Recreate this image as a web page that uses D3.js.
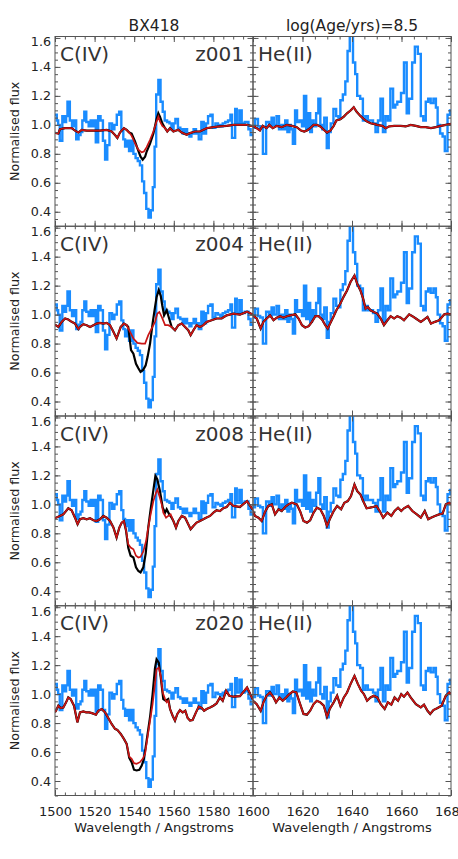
<!DOCTYPE html>
<html>
<head>
<meta charset="utf-8">
<script src="https://cdn.jsdelivr.net/npm/d3@7"></script>
<style>
  body { margin: 0; background: #fff; }
  svg { display: block; }
</style>
</head>
<body>
<script>
// ---- data ----
var metallicities = ['z001', 'z004', 'z008', 'z020'];
var leftTicks = [1500, 1520, 1540, 1560, 1580, 1600];
var leftTickLabels = ['1500', '1520', '1540', '1560', '1580', ''];
var rightTicks = [1600, 1620, 1640, 1660, 1680];
var rightTickLabels = ['1600', '1620', '1640', '1660', '1680'];
var yTicks = [0.4, 0.6, 0.8, 1.0, 1.2, 1.4, 1.6];

// observed spectrum of BX418 (bin start wavelength, flux), C IV window
var obsCIV = [[1500.0,1.07],[1500.9,1.03],[1501.6,1.00],[1502.4,0.89],[1503.7,1.06],[1504.6,1.02],[1505.6,1.06],[1506.3,1.16],
  [1507.5,1.03],[1508.6,0.99],[1509.6,1.03],[1510.7,0.90],[1511.9,0.93],[1512.9,0.95],[1513.8,1.03],[1514.8,1.09],[1515.8,1.02],
  [1517.0,0.99],[1518.0,1.03],[1519.1,0.99],[1520.0,1.03],[1520.6,0.88],[1521.8,1.06],[1523.0,1.03],[1524.2,0.89],[1525.3,0.76],
  [1526.4,0.86],[1527.5,1.01],[1528.8,0.97],[1530.0,1.00],[1531.2,1.07],[1532.4,1.09],[1533.5,0.96],[1534.5,0.90],[1535.4,0.85],
  [1536.4,0.89],[1537.4,0.82],[1538.6,0.89],[1539.6,0.80],[1540.7,0.77],[1541.8,0.75],[1542.9,0.72],[1544.0,0.61],[1545.0,0.53],
  [1546.1,0.42],[1547.2,0.36],[1548.4,0.41],[1549.4,0.57],[1550.3,0.85],[1551.1,1.21],[1552.2,1.31],[1553.3,1.16],[1554.4,1.09],
  [1555.4,1.03],[1556.6,1.02],[1557.8,1.01],[1558.8,0.97],[1559.9,1.01],[1560.8,1.04],[1562.1,0.98],[1563.3,0.97],[1564.5,0.94],
  [1565.5,0.97],[1566.7,0.94],[1567.9,0.92],[1568.9,0.94],[1570.0,0.97],[1571.2,0.94],[1572.6,0.90],[1573.9,1.02],[1575.1,0.94],
  [1576.3,1.01],[1577.3,1.06],[1578.5,1.07],[1579.6,0.98],[1581.0,1.01],[1582.3,1.00],[1583.5,0.99],[1584.7,1.01],[1586.0,1.02],
  [1587.4,1.03],[1588.6,1.07],[1589.4,0.91],[1591.0,1.11],[1591.8,1.01],[1593.1,1.10],[1594.3,1.01],[1595.8,1.02],[1597.7,0.97],
  [1598.8,0.93],[1600.0,0.93]];

// observed spectrum, He II window
var obsHeII = [[1600.0,0.98],[1600.8,1.04],[1602.0,0.99],[1602.9,0.98],[1604.0,0.80],[1605.3,1.02],[1606.5,0.99],[1607.5,1.05],
  [1608.4,1.00],[1609.5,1.06],[1610.5,0.97],[1611.5,1.00],[1612.3,0.97],[1613.0,1.03],[1613.9,0.95],[1614.7,1.00],[1615.3,0.97],
  [1616.1,0.87],[1617.0,1.10],[1617.8,1.02],[1618.8,1.03],[1619.8,0.99],[1620.6,1.20],[1621.5,0.97],[1622.4,1.08],[1623.1,0.95],
  [1623.8,1.03],[1624.5,0.99],[1625.5,1.08],[1626.4,1.18],[1627.2,1.00],[1628.0,0.97],[1628.8,1.05],[1629.8,0.84],[1630.6,0.95],
  [1631.4,1.01],[1632.5,1.11],[1633.6,1.06],[1634.5,1.05],[1635.3,1.17],[1636.3,1.21],[1637.3,1.30],[1638.2,1.51],[1639.1,1.64],
  [1640.4,1.43],[1641.3,1.35],[1642.1,1.20],[1643.3,1.18],[1644.4,1.03],[1645.4,1.06],[1646.4,1.03],[1647.4,1.03],[1648.5,1.01],
  [1649.5,0.95],[1650.5,1.03],[1651.5,1.18],[1652.5,0.95],[1653.5,1.06],[1654.5,1.03],[1655.5,1.25],[1656.6,1.12],[1657.5,1.14],
  [1658.3,1.16],[1659.8,1.22],[1661.0,1.43],[1662.1,1.08],[1663.0,1.18],[1664.3,1.43],[1665.4,1.54],[1666.6,1.49],[1667.8,1.06],
  [1668.8,1.03],[1669.8,1.16],[1670.8,1.18],[1671.8,1.15],[1672.9,1.18],[1673.9,1.12],[1674.6,1.00],[1675.6,0.94],[1676.6,0.92],
  [1677.5,0.82],[1678.6,1.07],[1679.6,1.10],[1680.0,1.10]];

// red model, C IV window, one per metallicity
var redCIV001 = [[1500.0,0.945],[1501.7,0.94],[1502.5,0.97],[1505.1,0.977],[1508.4,0.977],[1510.1,0.96],[1511.8,0.947],[1513.5,0.965],
  [1516.0,0.96],[1519.4,0.96],[1522.7,0.96],[1526.1,0.965],[1528.6,0.954],[1530.3,0.93],[1531.5,0.91],[1532.8,0.947],[1534.8,0.977],
  [1536.2,0.965],[1537.5,0.947],[1538.7,0.924],[1540.4,0.874],[1542.1,0.828],[1543.8,0.81],[1544.9,0.816],[1546.3,0.846],
  [1548.0,0.897],[1549.7,0.954],[1551.3,1.023],[1552.2,1.057],[1553.0,1.023],[1554.2,0.993],[1555.6,0.977],[1556.7,0.954],
  [1558.1,0.977],[1559.8,0.954],[1562.3,0.966],[1564.0,0.947],[1566.5,0.931],[1568.2,0.943],[1570.7,0.954],[1573.2,0.954],
  [1576.6,0.977],[1580.0,0.984],[1583.3,0.989],[1586.7,0.993],[1590.1,1.0],[1593.4,1.0],[1597.0,1.0],[1600.0,0.99]];
var redCIV004 = [[1500.0,0.93],[1501.7,0.915],[1503.4,0.95],[1505.1,0.973],[1506.7,0.966],[1508.4,0.95],[1510.1,0.938],[1511.8,0.90],
  [1512.6,0.915],[1514.3,0.934],[1516.0,0.927],[1517.7,0.915],[1519.4,0.927],[1521.0,0.938],[1522.7,0.943],[1524.4,0.938],
  [1526.1,0.943],[1527.8,0.927],[1529.5,0.881],[1531.1,0.835],[1532.0,0.869],[1533.2,0.915],[1534.8,0.938],[1536.2,0.927],
  [1537.9,0.881],[1539.6,0.835],[1541.6,0.805],[1543.8,0.80],[1545.5,0.80],[1547.1,0.858],[1548.8,0.904],[1550.5,0.95],
  [1551.7,1.007],[1552.7,1.018],[1553.9,0.984],[1555.6,0.927],[1557.2,0.927],[1558.9,0.915],[1560.6,0.892],[1562.3,0.927],
  [1564.0,0.938],[1565.7,0.915],[1567.3,0.892],[1568.5,0.858],[1569.9,0.892],[1571.5,0.927],[1573.2,0.915],[1574.9,0.927],
  [1576.6,0.95],[1579.1,0.961],[1581.6,0.973],[1584.2,0.973],[1586.7,0.995],[1590.1,1.007],[1593.4,1.0],[1597.0,1.02],[1600.0,1.0]];
var redCIV008 = [[1500.0,0.905],[1502.5,0.92],[1504.2,0.931],[1506.7,0.973],[1508.4,0.959],[1510.1,0.908],[1511.4,0.863],[1512.6,0.897],
  [1514.3,0.904],[1516.0,0.897],[1517.7,0.904],[1519.4,0.89],[1521.0,0.885],[1522.7,0.897],[1524.4,0.92],[1526.1,0.908],
  [1527.8,0.885],[1529.5,0.84],[1531.1,0.771],[1532.5,0.84],[1533.7,0.874],[1534.8,0.885],[1535.9,0.817],[1537.0,0.725],
  [1538.2,0.702],[1539.6,0.69],[1540.9,0.645],[1542.1,0.633],[1543.2,0.638],[1544.6,0.675],[1546.0,0.748],[1547.1,0.84],
  [1548.3,0.931],[1549.7,1.023],[1551.0,1.08],[1551.7,1.103],[1552.7,1.057],[1553.9,1.0],[1554.7,0.943],[1556.1,0.908],
  [1557.2,0.92],[1558.4,0.931],[1559.8,0.885],[1561.1,0.84],[1562.3,0.885],[1564.0,0.92],[1565.7,0.908],[1567.3,0.863],
  [1568.5,0.828],[1569.9,0.851],[1571.5,0.874],[1573.2,0.885],[1574.9,0.897],[1576.3,0.908],[1578.3,0.92],[1580.0,0.943],
  [1581.6,0.959],[1583.3,0.954],[1585.0,0.973],[1586.7,0.982],[1588.4,1.011],[1590.1,0.989],[1593.4,0.982],[1597.0,1.023],
  [1600.0,0.96]];
var redCIV020 = [[1500.0,0.875],[1500.5,0.885],[1501.7,0.92],[1502.9,0.904],[1504.2,0.908],[1505.6,0.943],[1506.7,0.977],[1507.9,0.966],
  [1509.6,0.92],[1511.3,0.805],[1512.6,0.874],[1514.3,0.881],[1515.7,0.874],[1517.3,0.874],[1519.0,0.867],[1520.7,0.858],
  [1521.9,0.885],[1523.6,0.897],[1525.3,0.874],[1526.9,0.835],[1528.6,0.794],[1530.3,0.76],[1531.5,0.753],[1533.2,0.725],
  [1534.8,0.691],[1536.2,0.656],[1537.5,0.569],[1538.7,0.553],[1539.9,0.523],[1541.2,0.519],[1542.9,0.53],[1544.3,0.553],
  [1545.5,0.588],[1546.6,0.691],[1548.0,0.817],[1549.3,0.931],[1550.5,1.069],[1551.3,1.172],[1552.4,1.183],[1553.4,1.126],
  [1554.4,1.011],[1555.6,0.966],[1556.4,0.943],[1557.2,0.954],[1558.1,0.897],[1559.4,0.851],[1560.6,0.817],[1561.8,0.863],
  [1563.1,0.89],[1564.5,0.874],[1565.8,0.885],[1567.0,0.835],[1568.2,0.817],[1569.5,0.821],[1571.2,0.874],[1572.6,0.913],
  [1574.1,0.904],[1575.3,0.885],[1576.6,0.897],[1578.3,0.908],[1580.0,0.92],[1581.6,0.936],[1583.3,0.977],[1584.7,0.954],
  [1586.4,1.023],[1588.0,0.989],[1590.1,0.982],[1593.4,0.986],[1597.0,1.046],[1600.0,0.96]];

// black model, only where it departs from the red one
var blackCIV001 = [[1537.5,0.947],[1538.7,0.94],[1540.4,0.885],[1542.1,0.82],[1543.2,0.78],[1544.3,0.76],[1545.5,0.78],
  [1546.3,0.816],[1548.0,0.87],[1549.7,0.94],[1551.3,1.04],[1552.2,1.08],[1553.0,1.057],[1554.2,1.01],[1555.6,0.977]];
var blackCIV004 = [[1536.2,0.927],[1537.0,0.915],[1538.4,0.755],[1539.6,0.73],[1540.9,0.66],[1542.1,0.63],[1543.2,0.605],
  [1544.6,0.62],[1545.8,0.65],[1546.8,0.71],[1548.0,0.80],[1549.3,0.94],[1550.5,1.05],[1551.3,1.12],[1552.4,1.17],[1553.4,1.13],
  [1554.2,1.06],[1555.1,0.995],[1556.4,1.03],[1557.6,0.975],[1558.9,0.915]];
var blackCIV008 = [[1534.8,0.885],[1535.9,0.817],[1537.0,0.70],[1538.2,0.645],[1539.6,0.633],[1540.9,0.565],[1542.1,0.54],
  [1543.2,0.53],[1544.6,0.565],[1545.8,0.66],[1547.1,0.84],[1548.3,0.966],[1549.7,1.10],[1550.7,1.195],[1551.7,1.172],
  [1553.0,1.092],[1554.4,0.977],[1555.6,0.943],[1556.4,0.966],[1557.7,0.931],[1558.9,0.908],[1559.8,0.885]];
var blackCIV020 = [[1536.2,0.656],[1537.5,0.56],[1538.7,0.53],[1539.9,0.478],[1541.2,0.473],[1542.6,0.478],[1543.8,0.507],
  [1544.9,0.553],[1546.3,0.68],[1548.0,0.84],[1549.3,1.0],[1550.5,1.18],[1551.3,1.24],[1552.4,1.218],[1553.4,1.115],
  [1554.7,0.966],[1555.9,0.954],[1557.2,0.966],[1558.1,0.897]];

// model, He II window (black and red coincide here)
var redHeII001 = [[1600.0,0.993],[1601.5,0.977],[1602.8,0.961],[1603.9,0.993],[1605.5,0.977],[1606.6,1.0],[1608.0,0.977],
  [1609.6,0.993],[1611.6,0.984],[1613.7,1.0],[1615.7,0.993],[1617.7,0.984],[1619.4,0.961],[1620.7,0.954],[1621.8,0.961],
  [1623.1,0.977],[1624.5,1.0],[1625.8,1.0],[1627.2,0.989],[1628.6,0.966],[1629.9,0.947],[1631.3,0.961],[1632.6,0.993],
  [1633.7,1.03],[1635.3,1.039],[1636.7,1.057],[1638.0,1.08],[1639.4,1.099],[1640.7,1.122],[1641.8,1.092],[1643.4,1.062],
  [1644.8,1.039],[1646.1,1.023],[1647.5,1.011],[1648.8,1.007],[1650.2,1.0],[1652.2,0.993],[1653.6,0.977],[1654.9,0.989],
  [1657.0,0.993],[1659.7,0.993],[1661.7,0.989],[1663.7,1.0],[1665.8,0.993],[1667.8,0.984],[1669.8,0.984],[1671.9,0.977],
  [1673.9,0.984],[1675.9,0.993],[1677.9,1.0],[1680.0,1.007]];
var redHeII004 = [[1600.0,0.995],[1601.5,0.973],[1603.1,0.904],[1604.2,0.95],[1605.5,0.973],[1606.9,0.995],[1608.3,0.961],
  [1609.6,0.979],[1611.0,0.989],[1612.3,0.979],[1613.7,0.989],[1615.0,0.995],[1617.1,1.002],[1618.4,0.973],[1619.8,0.927],
  [1621.1,0.911],[1622.5,0.92],[1623.8,0.95],[1625.2,0.989],[1626.5,0.989],[1627.9,0.966],[1629.2,0.927],[1630.2,0.904],
  [1631.3,0.943],[1632.6,0.989],[1633.7,1.03],[1635.3,1.076],[1636.7,1.126],[1638.0,1.167],[1639.4,1.225],[1641.0,1.27],
  [1642.1,1.213],[1643.4,1.167],[1644.5,1.11],[1645.5,1.041],[1646.4,1.053],[1647.5,1.03],[1648.8,1.018],[1650.2,1.007],
  [1651.6,0.973],[1652.9,0.927],[1654.3,0.961],[1655.6,0.989],[1657.0,0.973],[1658.3,0.989],[1659.7,0.979],[1661.0,0.961],
  [1663.1,1.002],[1664.4,0.989],[1665.8,0.973],[1667.8,0.95],[1669.1,0.966],[1670.5,0.984],[1671.9,0.938],[1673.5,0.95],
  [1675.2,0.961],[1677.3,1.002],[1678.6,1.007],[1680.0,1.002]];
var redHeII008 = [[1600.0,0.954],[1600.8,0.92],[1602.2,0.908],[1603.5,0.885],[1604.9,0.95],[1606.2,0.989],[1607.6,1.0],
  [1608.9,0.931],[1610.3,0.966],[1611.6,0.954],[1613.0,0.982],[1614.3,1.0],[1615.7,1.011],[1617.7,1.0],[1619.1,0.95],
  [1620.4,0.885],[1621.8,0.874],[1623.1,0.89],[1624.5,0.943],[1625.8,0.977],[1627.2,0.966],[1628.6,0.92],[1629.9,0.851],
  [1631.3,0.908],[1632.6,0.954],[1634.0,0.989],[1635.6,0.966],[1636.9,1.011],[1638.3,1.023],[1639.6,1.057],[1641.0,1.137],
  [1642.1,1.092],[1643.4,1.069],[1644.5,1.023],[1645.9,0.973],[1647.2,0.977],[1648.6,0.982],[1649.9,0.989],[1651.3,0.95],
  [1652.6,0.908],[1654.3,0.943],[1655.9,0.92],[1657.2,0.954],[1658.6,0.977],[1659.9,0.954],[1661.0,0.973],[1662.7,0.989],
  [1664.4,0.954],[1666.2,0.931],[1667.8,0.908],[1669.4,0.954],[1670.8,0.897],[1671.9,0.908],[1673.5,0.92],[1675.2,0.931],
  [1676.6,0.936],[1677.9,1.0],[1679.3,1.011],[1680.0,1.0]];
var redHeII020 = [[1600.0,0.954],[1601.5,0.931],[1603.1,0.885],[1604.2,0.943],[1605.5,0.989],[1606.9,1.011],[1608.3,0.977],
  [1609.3,0.943],[1610.7,0.977],[1612.0,0.954],[1613.4,0.977],[1614.7,1.0],[1616.1,1.018],[1617.5,1.011],[1618.8,0.943],
  [1620.4,0.863],[1621.8,0.858],[1623.1,0.885],[1624.5,0.931],[1625.8,0.954],[1627.2,0.943],[1628.6,0.92],[1629.9,0.844],
  [1631.0,0.897],[1632.6,0.943],[1634.0,0.989],[1635.3,0.92],[1636.7,0.977],[1638.0,1.011],[1639.4,1.069],[1641.0,1.126],
  [1642.4,1.069],[1643.7,1.023],[1644.8,1.0],[1646.1,0.954],[1647.5,0.977],[1648.8,0.989],[1650.2,0.977],[1651.6,0.931],
  [1653.2,0.897],[1654.5,0.943],[1655.9,0.927],[1657.2,0.977],[1658.6,0.954],[1659.9,1.0],[1661.0,0.982],[1662.4,1.011],
  [1663.7,0.977],[1665.8,0.931],[1667.8,0.908],[1669.1,0.927],[1670.5,0.885],[1671.6,0.863],[1672.9,0.89],[1674.6,0.904],
  [1676.2,0.92],[1677.9,0.989],[1679.3,1.011],[1680.0,1.0]];

var redCIV = [redCIV001, redCIV004, redCIV008, redCIV020];
var blackCIV = [blackCIV001, blackCIV004, blackCIV008, blackCIV020];
var redHeII = [redHeII001, redHeII004, redHeII008, redHeII020];

// ---- layout ----
var width = 458, height = 859;
var colLeft = [55, 253], colRight = [253, 451];
var rowTop = 36.5, rowH = 189.75;
var font = "'DejaVu Sans', Arial, sans-serif";

var svg = d3.select('body').append('svg').attr('width', width).attr('height', height);

var xL = d3.scaleLinear().domain([1500, 1600]).range(colLeft);
var xR = d3.scaleLinear().domain([1600, 1680]).range(colRight);

// black line = red line outside the window where the black one is given
function blackLine(red, seg) {
  var a = seg[0][0], b = seg[seg.length - 1][0];
  var before = red.filter(function (d) { return d[0] < a; });
  var after = red.filter(function (d) { return d[0] > b; });
  return before.concat(seg, after);
}

function panel(row, x, col) {
  var top = rowTop + row * rowH, bottom = top + rowH;
  var y = d3.scaleLinear().domain([0.3, 1.61]).range([bottom, top]);
  var x0 = x.range()[0], x1 = x.range()[1];
  var id = 'clip' + row + col;

  svg.append('clipPath').attr('id', id).append('rect')
    .attr('x', x0).attr('y', top).attr('width', x1 - x0).attr('height', rowH);

  var g = svg.append('g');
  var plot = g.append('g').attr('clip-path', 'url(#' + id + ')');

  var step = d3.line().x(function (d) { return x(d[0]); }).y(function (d) { return y(d[1]); }).curve(d3.curveStepAfter);
  var line = d3.line().x(function (d) { return x(d[0]); }).y(function (d) { return y(d[1]); });

  var obs = col === 0 ? obsCIV : obsHeII;
  var red = col === 0 ? redCIV[row] : redHeII[row];
  var black = col === 0 ? blackLine(red, blackCIV[row]) : red;

  plot.append('path').datum(obs).attr('d', step)
    .attr('fill', 'none').attr('stroke', '#1a8cff').attr('stroke-width', 2.4).attr('stroke-linejoin', 'miter');
  plot.append('path').datum(black).attr('d', line)
    .attr('fill', 'none').attr('stroke', '#000').attr('stroke-width', 2.2);
  plot.append('path').datum(red).attr('d', line)
    .attr('fill', 'none').attr('stroke', '#c81414').attr('stroke-width', 1.7);

  // ticks, all pointing inward
  var xMajor = col === 0 ? leftTicks : rightTicks;
  var xMinor = d3.range(x.domain()[0], x.domain()[1] + 0.1, 5);
  var yMinor = d3.range(0.3, 1.61, 0.05);

  function axisG(axis, tx, ty) {
    var a = g.append('g').attr('transform', 'translate(' + tx + ',' + ty + ')').call(axis);
    a.select('.domain').remove();
    a.selectAll('line').attr('stroke', '#555');
    a.selectAll('text').attr('font-family', font).attr('fill', '#222');
    return a;
  }

  axisG(d3.axisTop(x).tickValues(xMinor).tickSize(-3).tickFormat(''), 0, top);
  axisG(d3.axisTop(x).tickValues(xMajor).tickSize(-5.5).tickFormat(''), 0, top);
  axisG(d3.axisBottom(x).tickValues(xMinor).tickSize(-3).tickFormat(''), 0, bottom);
  var bx = axisG(d3.axisBottom(x).tickValues(xMajor).tickSize(-5.5).tickPadding(11)
    .tickFormat(function (d, i) { return row === 3 ? (col === 0 ? leftTickLabels[i] : rightTickLabels[i]) : ''; }), 0, bottom);
  bx.selectAll('text').attr('font-size', 13);

  axisG(d3.axisLeft(y).tickValues(yMinor).tickSize(-3).tickFormat(''), x0, 0);
  var ly = axisG(d3.axisLeft(y).tickValues(yTicks).tickSize(-5.5).tickPadding(4)
    .tickFormat(function (d) { return col === 0 ? d3.format('.1f')(d) : ''; }), x0, 0);
  ly.selectAll('text').attr('font-size', 12.7)
    .attr('dy', function (d) { return d === 1.6 ? '0.62em' : '0.32em'; });
  axisG(d3.axisRight(y).tickValues(yMinor).tickSize(-3).tickFormat(''), x1, 0);
  axisG(d3.axisRight(y).tickValues(yTicks).tickSize(-5.5).tickFormat(''), x1, 0);

  g.append('rect').attr('x', x0).attr('y', top).attr('width', x1 - x0).attr('height', rowH)
    .attr('fill', 'none').attr('stroke', '#555').attr('stroke-width', 1);

  // panel labels
  g.append('text').attr('x', x0 + 5).attr('y', top + 24.5)
    .attr('font-family', font).attr('font-size', 20).attr('fill', '#333')
    .text(col === 0 ? 'C(IV)' : 'He(II)');
  if (col === 0) {
    g.append('text').attr('x', x1 - 9).attr('y', top + 24.5).attr('text-anchor', 'end')
      .attr('font-family', font).attr('font-size', 20).attr('fill', '#333')
      .text(metallicities[row]);
    g.append('text')
      .attr('transform', 'translate(19,' + (top + rowH / 2) + ') rotate(-90)')
      .attr('text-anchor', 'middle').attr('font-family', font).attr('font-size', 12.7).attr('fill', '#222')
      .text('Normalised flux');
  }
  if (row === 3) {
    g.append('text').attr('x', (x0 + x1) / 2).attr('y', bottom + 36)
      .attr('text-anchor', 'middle').attr('font-family', font).attr('font-size', 13).attr('fill', '#222')
      .text('Wavelength / Angstroms');
  }
}

for (var r = 0; r < 4; r++) {
  panel(r, xL, 0);
  panel(r, xR, 1);
}

// column titles
svg.append('text').attr('x', (colLeft[0] + colLeft[1]) / 2).attr('y', 31)
  .attr('text-anchor', 'middle').attr('font-family', font).attr('font-size', 15.5).attr('fill', '#222')
  .text('BX418');
svg.append('text').attr('x', (colRight[0] + colRight[1]) / 2).attr('y', 31)
  .attr('text-anchor', 'middle').attr('font-family', font).attr('font-size', 15.5).attr('fill', '#222')
  .text('log(Age/yrs)=8.5');
</script>
</body>
</html>
